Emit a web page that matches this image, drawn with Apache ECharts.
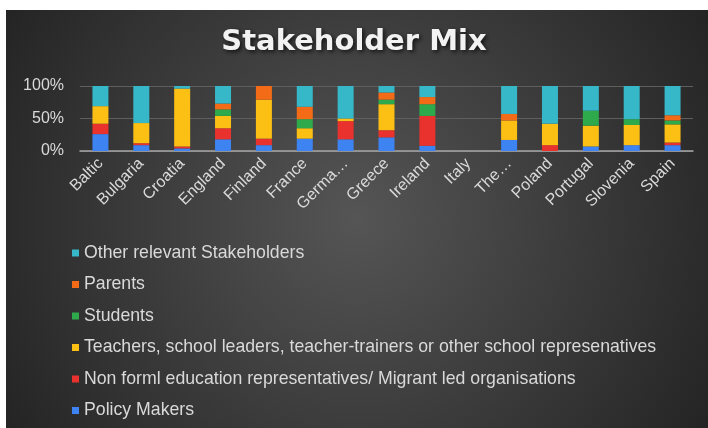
<!DOCTYPE html>
<html>
<head>
<meta charset="utf-8">
<script src="https://cdn.jsdelivr.net/npm/echarts@6/dist/echarts.min.js"></script>
<style>
html, body { margin: 0; padding: 0; background: #fff; }
#chart { width: 708px; height: 428px; }
</style>
</head>
<body>
<div id="chart"></div>
<script>
var categories = ['Baltic', 'Bulgaria', 'Croatia', 'England', 'Finland', 'France', 'Germany', 'Greece', 'Ireland', 'Italy', 'The Netherlands', 'Poland', 'Portugal', 'Slovenia', 'Spain'];
var tickLabels = ['Baltic', 'Bulgaria', 'Croatia', 'England', 'Finland', 'France', 'Germa…', 'Greece', 'Ireland', 'Italy', 'The…', 'Poland', 'Portugal', 'Slovenia', 'Spain'];

// shares in %, bottom of the stack first
var policyMakers = [26, 9, 4, 18, 9, 19, 18, 21, 8, 0, 17, 0, 7, 9, 9];
var nonFormal    = [16, 3, 3, 17, 10, 0, 28, 11, 46, 0, 0, 9, 0, 0, 4];
var teachers     = [27, 31, 89, 19, 60, 16, 4, 40, 0, 0, 30, 33, 32, 31, 28];
var students     = [0, 0, 0, 10, 0, 14, 0, 7, 18, 0, 0, 0, 23, 9, 6];
var parents      = [0, 0, 0, 9, 21, 19, 0, 11, 11, 0, 10, 0, 0, 0, 8];
var others       = [31, 57, 4, 27, 0, 32, 50, 10, 17, 0, 43, 58, 38, 51, 45];

var yTicks = [0, 50, 100];

var names = [
	'Policy Makers',
	'Non forml education representatives/ Migrant led organisations',
	'Teachers, school leaders, teacher-trainers or other school represenatives',
	'Students',
	'Parents',
	'Other relevant Stakeholders'
];
var values = [policyMakers, nonFormal, teachers, students, parents, others];
var colors = ['#3d83f2', '#e9322d', '#fcc015', '#2ea94c', '#f36b16', '#37b8c8'];

drawChart();

function drawChart() {
	var myChart = echarts.init(document.getElementById('chart'));

	var series = [];
	for (var i = 0; i < names.length; i++) {
		series.push({
			name: names[i],
			type: 'bar',
			stack: 'mix',
			barWidth: 16,
			itemStyle: { color: colors[i] },
			data: values[i]
		});
	}

	var option = {
		backgroundColor: '#ffffff',
		animation: false,
		color: colors,
		graphic: [{
			type: 'rect',
			z: -10,
			silent: true,
			shape: { x: 6, y: 10, width: 702, height: 418 },
			style: {
				fill: new echarts.graphic.RadialGradient(0.5, 0.5, 1.0, [
					{ offset: 0, color: '#555555' },
					{ offset: 1, color: '#232323' }
				])
			}
		}],
		title: {
			text: 'Stakeholder Mix',
			left: 'center',
			top: 23,
			textStyle: {
				color: '#f2f2f2',
				fontFamily: 'DejaVu Sans',
				fontSize: 29,
				fontWeight: 'bold',
				textShadowColor: 'rgba(0,0,0,0.7)',
				textShadowBlur: 4,
				textShadowOffsetX: 2,
				textShadowOffsetY: 2
			}
		},
		legend: {
			orient: 'vertical',
			left: 67,
			top: 239,
			icon: 'rect',
			itemWidth: 7,
			itemHeight: 7,
			itemGap: 13.5,
			data: names.slice().reverse(),
			textStyle: {
				color: '#d9d9d9',
				fontFamily: 'Liberation Sans',
				fontSize: 17.7,
				lineHeight: 18
			}
		},
		grid: {
			left: 80,
			right: 15,
			top: 86,
			bottom: 277
		},
		xAxis: {
			type: 'category',
			data: categories,
			axisLine: { lineStyle: { color: '#a6a6a6', width: 1.5 } },
			axisTick: { show: false },
			axisLabel: {
				rotate: 45,
				margin: 10,
				interval: 0,
				color: '#d9d9d9',
				fontFamily: 'Liberation Sans',
				fontSize: 16,
				formatter: function (v, idx) { return tickLabels[idx]; }
			}
		},
		yAxis: {
			type: 'value',
			min: yTicks[0],
			max: yTicks[yTicks.length - 1],
			interval: 50,
			axisLine: { show: false },
			axisTick: { show: false },
			splitLine: { lineStyle: { color: '#5e5e5e', width: 1 } },
			axisLabel: {
				margin: 16,
				color: '#d9d9d9',
				fontFamily: 'Liberation Sans',
				fontSize: 16,
				formatter: '{value}%'
			}
		},
		series: series
	};
	if (option && typeof option === 'object') {
		myChart.setOption(option, true);
	}
}
</script>
</body>
</html>
